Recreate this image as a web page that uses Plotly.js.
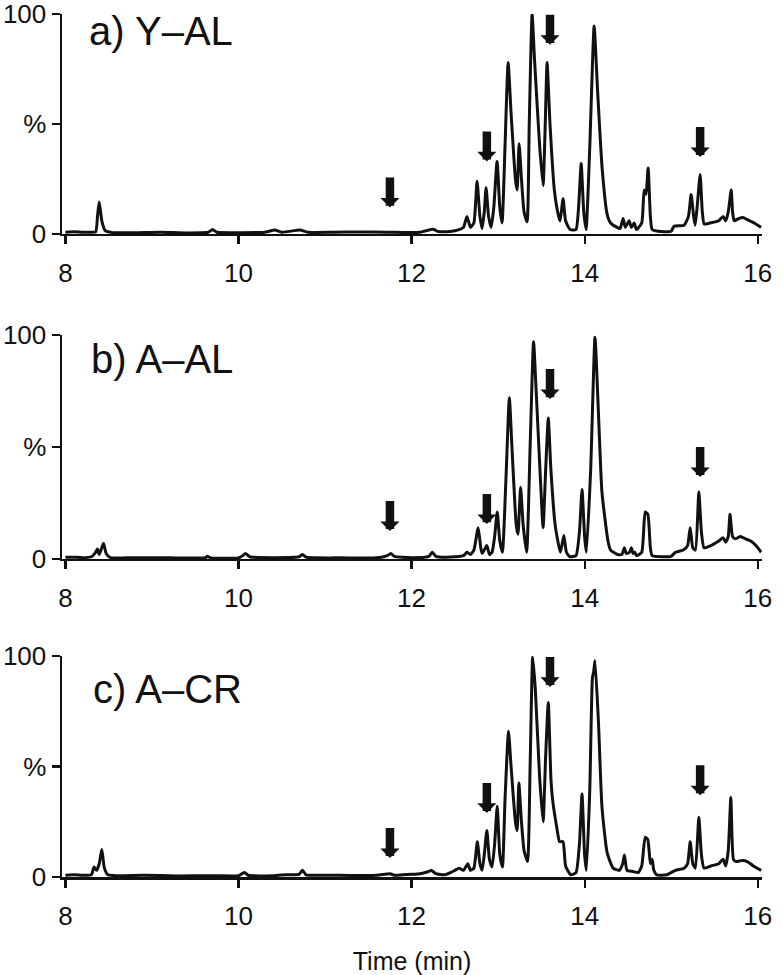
<!DOCTYPE html>
<html>
<head>
<meta charset="utf-8">
<script src="https://cdn.plot.ly/plotly-3.0.1.min.js"></script>
<style>html,body{margin:0;padding:0;background:#fff;}#chart{width:783px;height:975px;}</style>
</head>
<body>
<div id="chart"></div>
<script>
// ---- Data (time in min, relative abundance in %) ----
const timeA = [8.0,8.1,8.2,8.3,8.35,8.37,8.39,8.42,8.46,8.55,8.8,9.1,9.4,9.65,9.70,9.75,10.0,10.3,10.42,10.5,10.71,10.8,11.1,11.4,11.7,11.9,12.1,12.2,12.25,12.3,12.4,12.5,12.55,12.6,12.64,12.68,12.72,12.757,12.79,12.815,12.84,12.861,12.89,12.919,12.95,12.988,13.02,13.046,13.08,13.116,13.15,13.20,13.22,13.243,13.27,13.30,13.335,13.36,13.393,13.42,13.48,13.52,13.545,13.566,13.60,13.65,13.70,13.717,13.751,13.78,13.832,13.90,13.93,13.96,13.99,14.017,14.06,14.11,14.15,14.202,14.26,14.30,14.376,14.41,14.445,14.47,14.514,14.54,14.572,14.60,14.66,14.688,14.71,14.734,14.76,14.78,14.85,14.95,15.0,15.034,15.15,15.2,15.231,15.26,15.277,15.30,15.335,15.36,15.382,15.45,15.55,15.601,15.63,15.66,15.694,15.71,15.728,15.78,15.83,15.88,15.96,16.04];
const pctA  = [0.8,1.0,0.8,0.8,1.0,8,14.5,6,1.5,0.6,0.6,0.8,0.5,0.8,2.0,0.8,0.6,0.8,1.8,0.8,1.8,0.8,0.8,0.9,0.8,0.7,0.8,1.8,2.2,1.2,1.0,1.5,2.0,3.0,8,3,5,24,8,2.5,10,21,8,3,12,33,12,5,40,78,55,25,20,41,25,10,5.5,50,100,80,40,22,50,78,50,20,8,6,16,6,2,2,12,32,10,2,40,94.5,65,30,9,5,3,2.5,7,3,6,3,5,2,5,20,18,30,8,2,1.2,1.0,1.2,3.5,4,8,18,8,4,12,27,10,4.5,5,6,8,6,10,20,10,6,7,7.5,6.5,5,3];

const timeB = [8.0,8.1,8.2,8.3,8.34,8.37,8.39,8.42,8.44,8.47,8.52,8.8,9.2,9.62,9.64,9.68,10.0,10.05,10.08,10.13,10.4,10.7,10.74,10.78,11.2,11.6,11.72,11.76,11.80,12.0,12.2,12.24,12.28,12.4,12.5,12.6,12.64,12.68,12.72,12.77,12.80,12.815,12.84,12.87,12.90,12.93,12.96,12.99,13.02,13.05,13.09,13.13,13.16,13.21,13.23,13.26,13.29,13.33,13.37,13.41,13.44,13.49,13.52,13.55,13.58,13.61,13.66,13.72,13.76,13.79,13.83,13.90,13.94,13.97,14.00,14.02,14.07,14.12,14.16,14.20,14.27,14.30,14.38,14.43,14.46,14.48,14.52,14.54,14.56,14.58,14.60,14.66,14.70,14.73,14.76,14.78,14.9,15.0,15.05,15.14,15.19,15.22,15.25,15.28,15.32,15.35,15.38,15.46,15.55,15.60,15.63,15.66,15.68,15.71,15.74,15.80,15.86,15.92,15.98,16.04];
const pctB  = [0.8,0.8,0.6,1.0,2.5,4.5,2.0,5,7,2.5,0.6,0.6,0.5,0.6,1.2,0.5,0.5,1.5,2.5,1.0,0.6,1.0,2.0,0.8,0.5,0.5,1.5,2.5,1.2,0.6,1.2,3.0,1.2,0.8,1.0,1.5,3,2,4,14,5,2.5,4,6,2,3,10,21,8,3,35,72,50,15,11,32,15,3,50,97,75,35,14,40,63,40,15,3,10.5,3,1,1.5,12,31,10,3,40,99,65,30,8,4,2,2,5,2.5,3,5,2.5,3,1.5,3,21,20,5,1.5,1.0,1.2,3,4,6,14,5,4,30,12,5,6,8,9.5,7.5,10,20,10,9,10,9,8,6,3];

const timeC = [8.0,8.1,8.2,8.3,8.33,8.36,8.39,8.42,8.45,8.49,8.6,8.9,9.3,9.7,10.0,10.04,10.07,10.11,10.4,10.55,10.7,10.74,10.78,11.0,11.3,11.6,11.75,11.8,11.9,12.0,12.1,12.2,12.23,12.28,12.38,12.45,12.5,12.55,12.6,12.65,12.68,12.72,12.76,12.79,12.815,12.84,12.87,12.90,12.93,12.96,12.99,13.02,13.05,13.08,13.12,13.15,13.20,13.22,13.24,13.27,13.30,13.34,13.37,13.40,13.43,13.48,13.52,13.55,13.58,13.61,13.63,13.68,13.71,13.75,13.78,13.84,13.90,13.94,13.97,14.00,14.02,14.06,14.09,14.105,14.12,14.16,14.20,14.26,14.33,14.40,14.44,14.46,14.49,14.56,14.62,14.66,14.70,14.73,14.76,14.78,14.80,14.83,14.95,15.05,15.15,15.19,15.22,15.25,15.28,15.32,15.35,15.38,15.46,15.55,15.60,15.63,15.66,15.69,15.72,15.75,15.82,15.88,15.95,16.04];
const pctC  = [0.8,1.0,0.8,1.0,4.5,3,6,12.5,4,1,0.6,0.8,0.5,0.6,0.6,1.5,2,0.8,0.6,1.0,1.2,3,1.0,0.8,0.7,0.8,1.5,0.8,1.0,1.2,1.5,2.5,3,1.5,1,2,3,4,3,6,3,4,16,6,3,10,21,8,4.5,15,32,10,4.5,35,66,50,25,21,42.5,25,12,7,50,99.5,85,45,25,55,79,45,35,22,16,16,5,1,2,15,37.5,10,3,40,90,93,98,70,32,11,4,3,6,10,3,2.5,2,5,18,17,6,8,3,1,1,3,4,6,16,6,4,27,10,4,5,6,8,5,12,36,8,7,7.5,7,5,3];

const arrowTimes = [11.75, 12.87, 13.60, 15.335];
const arrowTipsA = [12, 33, 86, 35];
const arrowTipsB = [12.5, 15.6, 71.4, 36.6];
const arrowTipsC = [8.6, 29, 86, 37];

const panelLabels = ['a) Y\u2013AL', 'b) A\u2013AL', 'c) A\u2013CR'];
const xTicks = [8, 10, 12, 14, 16];
const yTickVals = [0, 50, 100];
const yTickText = ['0', '%', '100'];
const xTitle = 'Time (min)';

// ---- Build figure ----
const FONT = 'Liberation Sans, Arial, Helvetica, sans-serif';
const lineStyle = {color: '#111', width: 3, shape: 'spline', smoothing: 0.5};
const traces = [
  {x: timeA, y: pctA, xaxis: 'x', yaxis: 'y'},
  {x: timeB, y: pctB, xaxis: 'x2', yaxis: 'y2'},
  {x: timeC, y: pctC, xaxis: 'x3', yaxis: 'y3'}
].map(t => Object.assign(t, {type: 'scatter', mode: 'lines', line: lineStyle, hoverinfo: 'skip', showlegend: false}));

function xAxis(anchor, withTitle) {
  const a = {
    anchor: anchor, range: [7.96, 16.05], tickvals: xTicks, ticktext: xTicks.map(String),
    showline: true, linecolor: '#111', linewidth: 2.5, ticks: 'outside', ticklen: 8, tickwidth: 2.2, tickcolor: '#111',
    showgrid: false, zeroline: false, tickfont: {family: FONT, size: 26, color: '#111'}, ticklabelstandoff: 6,
    ticklabeloverflow: 'allow'
  };
  if (withTitle) a.title = {text: xTitle, font: {family: FONT, size: 25, color: '#111'}, standoff: 24};
  return a;
}
function yAxis(anchor, domain) {
  return {
    anchor: anchor, domain: domain, range: [0, 100], tickvals: yTickVals, ticktext: yTickText,
    showline: true, linecolor: '#111', linewidth: 2.5, ticks: 'outside', ticklen: 8, tickwidth: 2.2, tickcolor: '#111',
    showgrid: false, zeroline: false, tickfont: {family: FONT, size: 26, color: '#111'}, ticklabelstandoff: 0,
    ticklabeloverflow: 'allow'
  };
}

const annotations = [];
const tipsList = [arrowTipsA, arrowTipsB, arrowTipsC];
const yrefs = ['y', 'y2', 'y3'];
const xrefs = ['x', 'x2', 'x3'];
tipsList.forEach((tips, p) => {
  arrowTimes.forEach((t, i) => {
    annotations.push({
      x: t, y: tips[i], xref: xrefs[p], yref: yrefs[p], text: ' ', font: {size: 1},
      showarrow: true, arrowhead: 1, arrowsize: 0.375, arrowwidth: 8.5, arrowcolor: '#111',
      ax: 0, ay: -32, standoff: 0, startstandoff: 0
    });
  });
});
const labelY = [0.9800, 0.6002, 0.2184];
const labelX = [0.036, 0.038, 0.041];
panelLabels.forEach((txt, p) => {
  annotations.push({
    text: txt, xref: 'paper', yref: 'paper', x: labelX[p], y: labelY[p], xanchor: 'left', yanchor: 'middle',
    showarrow: false, font: {family: FONT, size: 40, color: '#111'}
  });
});

const layout = {
  width: 783, height: 975,
  margin: {l: 62, r: 21, t: 14, b: 98},
  paper_bgcolor: '#fff', plot_bgcolor: '#fff',
  xaxis: xAxis('y', false), xaxis2: xAxis('y2', false), xaxis3: xAxis('y3', true),
  yaxis: yAxis('x', [0.7451, 1.0]), yaxis2: yAxis('x2', [0.3685, 0.6280]), yaxis3: yAxis('x3', [0, 0.2561]),
  annotations: annotations,
  font: {family: FONT, color: '#111'}
};

Plotly.newPlot('chart', traces, layout, {staticPlot: true, displayModeBar: false});
</script>
</body>
</html>
